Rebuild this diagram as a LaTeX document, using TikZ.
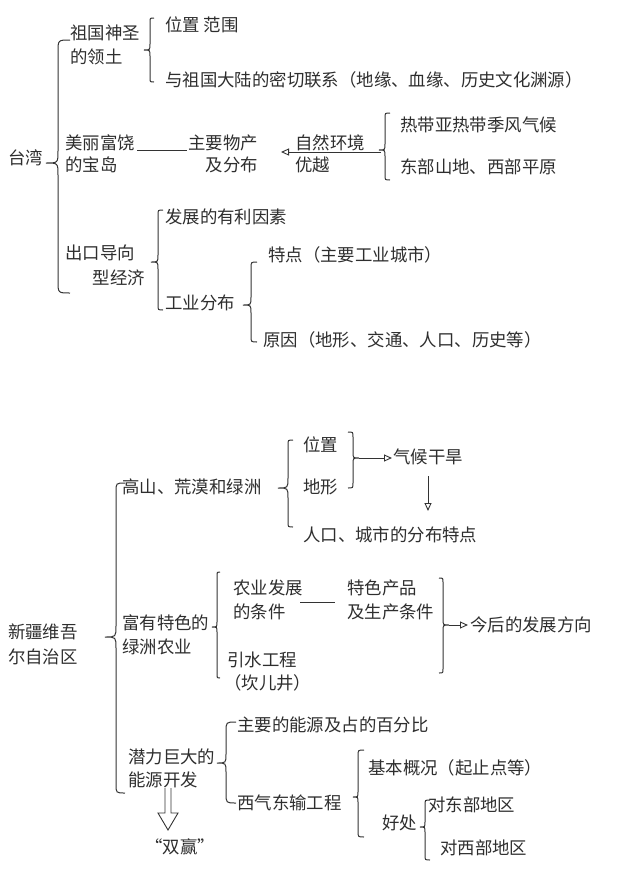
\documentclass[tikz,border=0pt]{standalone}
\usepackage{fontspec}
\newfontfamily\cjk{Noto Sans CJK SC}
\usetikzlibrary{arrows.meta}
\newcommand\BrL[6]{\draw[br] ({#1+#5},#2) .. controls (#1,#2) .. (#1,{#2+#5}) -- (#1,{#3-#6}) .. controls (#1,#3) .. ({#1-#6},#3) .. controls (#1,#3) .. (#1,{#3+#6}) -- (#1,{#4-#5}) .. controls (#1,#4) .. ({#1+#5},#4);}
\newcommand\BrR[6]{\draw[br] ({#1-#5},#2) .. controls (#1,#2) .. (#1,{#2+#5}) -- (#1,{#3-#6}) .. controls (#1,#3) .. ({#1+#6},#3) .. controls (#1,#3) .. (#1,{#3+#6}) -- (#1,{#4-#5}) .. controls (#1,#4) .. ({#1-#5},#4);}
\begin{document}
\begin{tikzpicture}[x=1pt,y=-1pt,
  t/.style={anchor=west,inner sep=0pt,text=black!82,font=\cjk\fontsize{17.4}{20}\selectfont,text height=14.4pt,text depth=1.2pt},
  tr/.style={t,anchor=east},
  br/.style={draw=black!80,line width=1pt},
  ln/.style={draw=black!80,line width=0.9pt},
  arr/.style={ln,-{Triangle[open,length=8pt,width=7pt]}}]
\useasboundingbox[fill=white] (0,0) rectangle (640,871);
% ---------- Taiwan ----------
\node[t] (tw) at (8,158) {台湾};
\BrL{58}{40}{163}{293}{12}{12}
\node[t] (zg1) at (70,33) {祖国神圣};
\node[t] (zg2) at (70,57) {的领土};
\BrL{150}{18}{50}{82}{4}{6}
\node[t] (wz) at (165,25) {位置 范围};
\node[t] (yz) at (165,80) {与祖国大陆的密切联系（地缘、血缘、历史文化渊源）};
\node[t] (ml1) at (65,143) {美丽富饶};
\node[t] (ml2) at (65,165) {的宝岛};
\coordinate (l1a) at (137,150);
\coordinate (l1b) at (187,150);
\draw[ln] (l1a) -- (l1b);
\node[tr] (zy1) at (258,143) {主要物产};
\node[tr] (zy2) at (258,165) {及分布};
\coordinate (a1a) at (381,152);
\coordinate (a1b) at (281,152);
\draw[arr] (a1a) -- (a1b);
\node[t] (zr1) at (295,143) {自然环境};
\node[t] (zr2) at (295,165) {优越};
\BrL{385}{113}{150}{180}{5}{6}
\node[t] (rd1) at (400,125) {热带亚热带季风气候};
\node[t] (rd2) at (400,167) {东部山地、西部平原};
\node[t] (ck1) at (65,253) {出口导向};
\node[tr] (ck2) at (145,278) {型经济};
\BrL{158}{210}{262}{310}{5}{7}
\node[t] (fz) at (165,217) {发展的有利因素};
\node[t] (gy) at (165,303) {工业分布};
\BrL{251}{262}{305}{342}{6}{8}
\node[t] (td) at (268,255) {特点（主要工业城市）};
\node[t] (yy) at (263,340) {原因（地形、交通、人口、历史等）};
% ---------- Xinjiang ----------
\node[t] (xj1) at (8,632) {新疆维吾};
\node[t] (xj2) at (8,657) {尔自治区};
\BrL{116}{483}{637}{793}{9}{11}
\node[t] (gs) at (122,487) {高山、荒漠和绿洲};
\BrL{288}{440}{488}{527}{5}{10}
\node[t] (wz2) at (303,445) {位置};
\node[t] (dx) at (303,487) {地形};
\node[t] (rk) at (303,535) {人口、城市的分布特点};
\BrR{353}{432}{458}{488}{5}{6}
\coordinate (a2a) at (359,458);
\coordinate (a2b) at (392,458);
\draw[arr] (a2a) -- (a2b);
\node[t] (qh) at (393,457) {气候干旱};
\coordinate (a3a) at (428,476);
\coordinate (a3b) at (428,511);
\draw[arr] (a3a) -- (a3b);
\node[t] (fy1) at (122,623) {富有特色的};
\node[t] (fy2) at (122,647) {绿洲农业};
\BrL{217}{572}{627}{678}{3}{5}
\node[t] (ny1) at (233,588) {农业发展};
\node[t] (ny2) at (233,612) {的条件};
\coordinate (l2a) at (300,602);
\coordinate (l2b) at (335,602);
\draw[ln] (l2a) -- (l2b);
\node[t] (ts1) at (347,588) {特色产品};
\node[t] (ts2) at (347,612) {及生产条件};
\BrR{443}{578}{625}{673}{4}{6}
\coordinate (a4a) at (449,625);
\coordinate (a4b) at (468,625);
\draw[arr] (a4a) -- (a4b);
\node[t] (jh) at (470,625) {今后的发展方向};
\node[t] (ys1) at (227,660) {引水工程};
\node[t] (ys2) at (224,683) {（坎儿井）};
\node[t] (ql1) at (128,757) {潜力巨大的};
\node[t] (ql2) at (128,780) {能源开发};
\BrL{226}{722}{763}{803}{10}{9}
\node[t] (zyn) at (237,725) {主要的能源及占的百分比};
\node[t] (xq) at (237,803) {西气东输工程};
\BrL{358}{750}{797}{837}{6}{5}
\node[t] (jb) at (368,768) {基本概况（起止点等）};
\node[t] (hc) at (382,823) {好处};
\BrL{425}{800}{827}{860}{5}{5}
\node[t] (dd) at (428,805) {对东部地区};
\node[t] (dx2) at (440,848) {对西部地区};
\draw[ln,line join=miter] (165,788) -- (165,813) -- (158,813) -- (168,830) -- (178,813) -- (171,813) -- (171,788);
\node[t] (sy) at (145,847) {“双赢”};
\end{tikzpicture}
\end{document}
